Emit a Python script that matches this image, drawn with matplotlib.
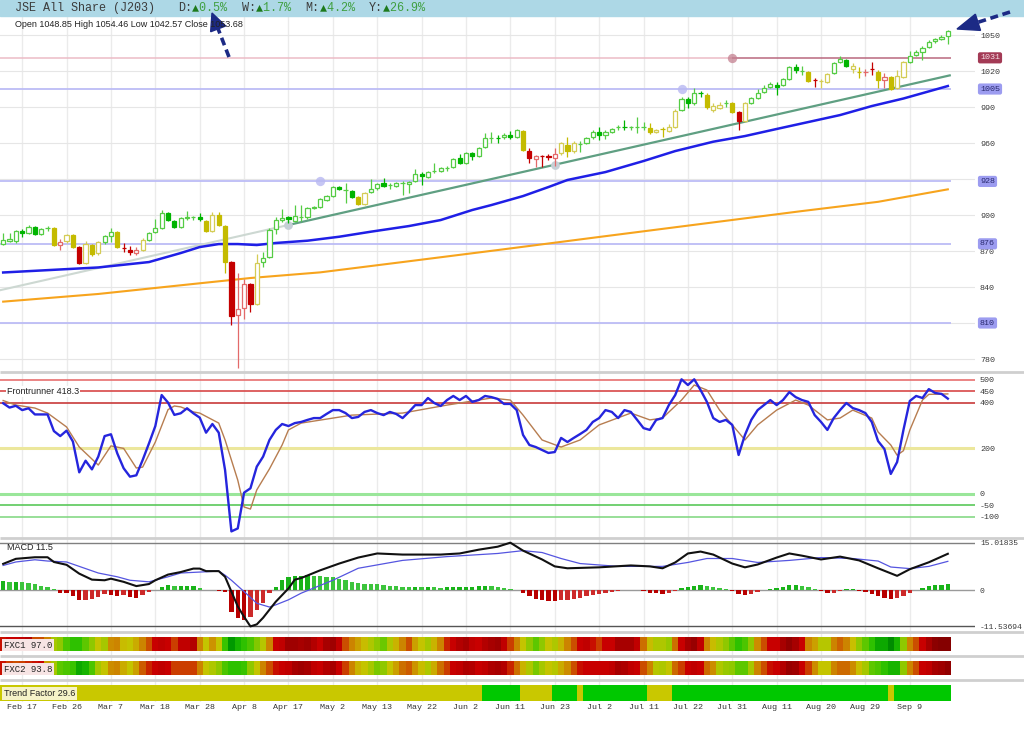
import numpy as np
import matplotlib
matplotlib.use("Agg")
import matplotlib.pyplot as plt
from matplotlib.colors import LinearSegmentedColormap, ListedColormap
from matplotlib.patches import Polygon, Rectangle

plt.rcParams['axes.unicode_minus'] = False
MONO = ['Liberation Mono', 'DejaVu Sans Mono']
SANS = ['Liberation Sans', 'DejaVu Sans']

# ---------------- data ----------------
title = "JSE All Share (J203)"
period_labels = ["D", "W", "M", "Y"]
period_changes = [0.5, 1.7, 4.2, 26.9]

date_labels = ["Feb 17", "Feb 26", "Mar 7", "Mar 18", "Mar 28", "Apr 8", "Apr 17",
               "May 2", "May 13", "May 22", "Jun 2", "Jun 11", "Jun 23", "Jul 2",
               "Jul 11", "Jul 22", "Jul 31", "Aug 11", "Aug 20", "Aug 29", "Sep 9"]
date_idx = [3, 10, 17, 24, 31, 38, 45, 52, 59, 66, 73, 80, 87, 94, 101, 108, 115,
            122, 129, 136, 143]

opens = [
    875.8, 878.3, 878.3, 886.7, 885.0, 890.0, 884.2, 889.0, 889.2, 875.0,
    878.3, 883.3, 873.3, 860.0, 875.0, 868.3, 877.5, 882.5, 885.8, 872.5,
    870.8, 868.3, 870.8, 879.2, 885.8, 889.2, 901.7, 895.0, 890.0, 897.5,
    898.0, 898.3, 895.0, 886.7, 900.0, 890.8, 860.8, 816.7, 822.5, 842.5,
    825.8, 860.8, 865.0, 888.3, 895.8, 898.3, 895.0, 898.3, 898.3, 905.8,
    906.7, 912.5, 915.8, 923.3, 920.8, 920.0, 915.0, 909.2, 919.2, 922.5,
    926.7, 925.0, 924.2, 926.7, 925.8, 928.3, 934.2, 931.7, 936.7, 936.7,
    939.2, 940.0, 947.5, 943.3, 951.7, 949.2, 956.7, 964.2, 964.2, 965.0,
    966.7, 965.0, 970.0, 953.3, 946.7, 949.2, 949.2, 947.5, 951.7, 958.3,
    953.3, 959.2, 960.0, 965.0, 969.2, 966.7, 969.2, 973.3, 973.3, 973.3,
    973.3, 973.3, 972.5, 969.2, 971.7, 970.0, 973.3, 987.5, 996.7, 993.3,
    1001.7, 1000.0, 987.5, 989.2, 993.3, 993.3, 985.8, 978.3, 993.3, 997.5,
    1002.5, 1006.7, 1008.3, 1008.3, 1013.3, 1023.3, 1020.0, 1019.2, 1012.5, 1011.7,
    1010.8, 1018.3, 1027.5, 1029.2, 1021.7, 1019.2, 1019.2, 1021.7, 1019.2, 1012.5,
    1015.0, 1005.8, 1015.0, 1027.5, 1033.3, 1035.8, 1040.0, 1045.0, 1046.7, 1048.85]
closes = [
    879.2, 880.0, 886.7, 885.0, 890.0, 884.2, 888.3, 889.2, 875.0, 877.5,
    883.3, 873.3, 860.0, 875.8, 867.5, 877.5, 882.5, 885.8, 873.3, 872.2,
    869.2, 870.8, 879.2, 885.0, 889.2, 901.7, 895.8, 890.0, 897.5, 898.3,
    898.3, 896.7, 886.7, 900.0, 891.7, 860.8, 815.8, 821.7, 842.5, 825.8,
    860.0, 864.2, 887.5, 895.8, 897.5, 896.7, 899.2, 898.5, 905.8, 906.7,
    913.3, 915.8, 923.3, 921.7, 921.0, 915.0, 909.2, 918.3, 921.7, 925.8,
    924.2, 925.2, 926.7, 926.8, 927.5, 934.2, 932.5, 935.8, 936.8, 939.2,
    939.4, 946.7, 943.3, 951.7, 949.2, 955.8, 964.2, 964.4, 964.0, 966.7,
    965.0, 970.8, 954.2, 947.5, 949.2, 949.0, 948.3, 950.8, 960.0, 953.3,
    960.0, 959.4, 964.2, 969.2, 966.7, 969.2, 971.7, 973.5, 973.2, 973.4,
    973.4, 973.5, 969.2, 970.8, 971.6, 973.3, 986.7, 996.7, 993.3, 1001.7,
    1001.5, 990.0, 990.8, 991.7, 993.5, 985.8, 978.3, 993.3, 997.5, 1001.7,
    1005.8, 1009.2, 1006.7, 1013.3, 1023.3, 1020.8, 1020.2, 1011.7, 1012.3, 1011.9,
    1017.5, 1026.7, 1030.0, 1024.2, 1024.2, 1019.0, 1019.4, 1021.5, 1012.5, 1015.0,
    1005.0, 1015.8, 1027.5, 1032.5, 1035.8, 1039.2, 1044.2, 1046.7, 1048.3, 1053.68]
highs = [
    885.0, 885.0, 887.5, 888.0, 891.7, 891.0, 889.0, 890.5, 890.0, 880.0,
    884.5, 884.5, 874.0, 878.6, 876.0, 878.0, 883.5, 889.4, 886.5, 876.7,
    874.5, 873.0, 880.5, 886.0, 896.7, 904.2, 902.5, 896.0, 898.5, 903.3,
    899.5, 901.9, 896.0, 902.8, 902.5, 891.5, 862.0, 851.7, 846.7, 843.5,
    867.5, 869.2, 889.0, 898.0, 905.0, 899.0, 908.3, 908.0, 906.5, 907.5,
    914.5, 917.0, 924.5, 924.5, 927.0, 921.0, 916.0, 919.5, 930.0, 927.0,
    930.8, 927.0, 927.5, 928.0, 928.5, 938.3, 935.5, 937.0, 943.3, 940.0,
    941.0, 947.5, 950.8, 952.5, 952.5, 956.7, 968.3, 969.0, 967.0, 968.0,
    970.3, 971.7, 971.0, 955.8, 950.0, 950.0, 951.0, 955.8, 961.0, 965.0,
    961.5, 962.0, 965.0, 970.8, 973.6, 970.5, 972.5, 975.0, 979.2, 974.5,
    981.4, 977.8, 976.7, 972.0, 973.5, 975.5, 988.0, 998.0, 998.0, 1005.6,
    1003.5, 1001.5, 993.3, 994.0, 995.5, 994.2, 986.5, 994.2, 998.3, 1004.7,
    1008.3, 1010.8, 1011.0, 1014.5, 1024.2, 1025.8, 1024.0, 1020.0, 1014.5, 1013.3,
    1018.5, 1027.5, 1032.8, 1030.0, 1026.4, 1023.3, 1021.7, 1027.8, 1020.8, 1018.3,
    1016.0, 1020.8, 1028.3, 1036.9, 1037.5, 1040.8, 1045.8, 1047.5, 1050.0, 1054.46]
lows = [
    875.0, 877.5, 877.0, 882.0, 884.0, 883.0, 883.0, 887.0, 874.0, 870.8,
    877.0, 872.5, 859.0, 859.0, 866.0, 867.0, 876.0, 877.7, 872.5, 869.2,
    866.5, 866.5, 870.0, 878.0, 885.0, 888.0, 895.0, 889.0, 889.0, 896.0,
    896.0, 895.0, 886.0, 886.0, 891.0, 851.7, 808.3, 772.5, 813.3, 819.2,
    825.0, 856.7, 864.0, 884.0, 894.0, 893.0, 894.0, 895.0, 897.0, 905.0,
    906.0, 911.5, 915.0, 920.5, 910.0, 914.0, 908.5, 908.5, 918.0, 921.0,
    923.0, 922.0, 923.5, 916.7, 918.0, 927.5, 925.0, 930.5, 935.0, 935.5,
    937.0, 939.0, 942.5, 942.5, 945.5, 948.3, 955.8, 960.0, 960.0, 963.5,
    963.0, 964.0, 953.3, 943.3, 940.0, 940.0, 946.0, 941.0, 950.0, 948.0,
    952.0, 952.8, 959.0, 963.5, 962.5, 963.0, 968.3, 971.0, 971.0, 971.0,
    968.3, 970.8, 967.5, 968.0, 965.2, 969.0, 972.5, 986.7, 989.2, 992.0,
    998.5, 988.3, 986.0, 988.0, 990.3, 985.0, 970.8, 977.5, 992.5, 996.7,
    1001.7, 1005.8, 1000.0, 1007.5, 1012.5, 1018.3, 1016.7, 1010.8, 1006.9, 1006.0,
    1010.0, 1017.5, 1026.7, 1023.3, 1018.3, 1014.2, 1015.8, 1016.7, 1005.8, 1005.8,
    1004.2, 1005.0, 1014.2, 1026.7, 1032.5, 1029.2, 1039.2, 1043.5, 1045.8, 1042.57]
# candle trend state: g = green, y = yellow, r = red
candle_state = ("gggggggg" + "yryyryyyggyrrryg" + "gggggggg" + "yyyy" + "rrrr" + "y"
                + "ggggggggggggggg" + "yy" + "gggggggggggggggggggggggg" + "y" + "rrrrr"
                + "yyy" + "ggggggggggg" + "yyyyy" + "gggg" + "yyy" + "g" + "yry"
                + "ggggggggg" + "yryy" + "ggg" + "yyrryryyy" + "ggggggg")

ma_fast_k = [0, 15, 23, 28, 31, 34, 37, 40, 43, 48, 53, 58, 64, 69, 74, 77, 82, 86, 89,
             95, 101, 106, 112, 117, 122, 127, 132, 137, 142, 149]
ma_fast_v = [852.1, 856.3, 860.8, 868.3, 873.3, 875.8, 875.8, 875.0, 876.7, 878.6, 881.9,
             886.1, 890.8, 895.8, 904.2, 908.3, 915.8, 923.3, 929.2, 935.8, 945.0, 953.3,
             961.1, 965.8, 971.7, 977.5, 983.3, 990.8, 997.1, 1007.5]
ma_slow_k = [0, 15, 31, 39, 50, 63, 78, 94, 110, 126, 138, 149]
ma_slow_v = [827.8, 834.2, 843.1, 847.5, 852.2, 860.8, 870.8, 881.7, 892.5, 903.3, 911.0, 921.4]

trend_anchor_k = [45, 87]
trend_anchor_v = [891.7, 941.9]

levels = [1031, 1005, 928, 876, 810]
level_anchor = [115, 107, 50, None, None]

frontrunner = [
    398, 379, 387, 368, 376, 349, 349, 349, 276, 254,
    278, 230, 95, 146, 108, 164, 254, 262, 178, 113,
    76, 82, 149, 222, 298, 434, 401, 347, 354, 376,
    354, 335, 269, 307, 269, 105, -164, -151, 6, 25,
    120, 164, 237, 281, 307, 298, 311, 316, 325, 333,
    333, 351, 368, 368, 355, 333, 338, 360, 368, 355,
    346, 360, 351, 333, 360, 390, 390, 421, 399, 386,
    412, 430, 412, 430, 404, 412, 430, 425, 417, 395,
    395, 368, 259, 215, 206, 193, 180, 184, 246, 228,
    246, 263, 281, 316, 333, 368, 360, 333, 368, 360,
    325, 289, 281, 325, 333, 390, 434, 503, 478, 503,
    456, 404, 333, 316, 325, 303, 171, 259, 325, 368,
    390, 412, 390, 412, 447, 425, 412, 404, 346, 316,
    281, 333, 368, 399, 377, 368, 355, 316, 232, 197,
    88, 140, 281, 408, 430, 421, 460, 443, 439, 418.3]
fr_sig_k = [0, 2, 5, 7, 10, 12, 15, 17, 19, 21, 22, 24, 26, 27, 28, 30, 31, 34, 35, 37,
            38, 39, 40, 42, 44, 45, 47, 55, 63, 70, 77, 80, 82, 85, 88, 91, 94, 99, 102,
            104, 107, 109, 111, 113, 115, 117, 119, 122, 125, 127, 130, 132, 134, 137, 138,
            140, 141, 142, 143, 145, 146, 149]
fr_sig_v = [410, 390, 377, 355, 294, 206, 127, 211, 200, 114, 118, 228, 370, 386, 382,
            360, 355, 311, 237, 61, -57, -66, 18, 110, 215, 281, 311, 346, 355, 390, 421,
            412, 346, 237, 206, 237, 303, 355, 325, 333, 412, 478, 456, 368, 303, 237, 303,
            368, 412, 390, 325, 333, 368, 333, 272, 215, 170, 190, 280, 412, 437, 439]
fr_levels = [500, 450, 400, 200, 0, -50, -100]

macd_k = [0, 2, 5, 7, 8, 10, 12, 14, 16, 17, 19, 21, 23, 24, 26, 28, 30, 31, 32, 34, 35,
          36, 37, 38, 39, 40, 41, 43, 45, 46, 47, 50, 53, 56, 59, 63, 69, 72, 75, 78, 80,
          82, 85, 87, 89, 94, 99, 102, 104, 106, 108, 110, 112, 115, 117, 119, 122, 124,
          126, 129, 132, 135, 138, 141, 143, 146, 149]
macd_v = [8.3, 9.9, 10.4, 10.4, 8.9, 8.0, 5.2, 3.3, 3.1, 3.6, 2.6, 1.25, 1.9, 3.1, 4.9,
          5.7, 6.8, 6.8, 6.0, 6.0, 4.2, -0.5, -5.2, -8.5, -11.54, -10.9, -8.8, -3.7, 0.5,
          3.3, 3.8, 6.25, 8.4, 10.3, 11.6, 11.25, 11.25, 11.6, 12.8, 13.75, 15.02, 12.5,
          9.7, 7.5, 6.9, 7.2, 7.8, 7.5, 6.9, 8.75, 11.6, 12.2, 11.25, 8.4, 7.2, 8.1, 10.3,
          11.6, 10.9, 9.7, 10.6, 9.4, 6.9, 4.5, 6.6, 8.8, 11.5]
macd_sig_k = [0, 2, 5, 7, 10, 13, 15, 18, 20, 23, 26, 28, 31, 34, 35, 36, 38, 40, 42, 43,
              45, 47, 52, 56, 63, 70, 78, 82, 85, 88, 91, 97, 104, 108, 111, 115, 119, 124,
              129, 134, 138, 140, 143, 146, 149]
macd_sig_v = [7.8, 8.9, 9.6, 9.2, 8.9, 6.8, 5.4, 4.2, 3.1, 2.6, 4.2, 5.4, 5.7, 6.0, 4.7,
              3.1, -0.5, -4.2, -5.4, -4.7, -3.1, -1.0, 3.1, 6.9, 9.4, 10.6, 11.6, 12.5, 11.9,
              10.0, 8.4, 7.5, 7.5, 8.75, 10.0, 10.0, 8.75, 9.4, 10.3, 10.0, 9.2, 7.3, 6.8,
              7.5, 9.1]
macd_hist = [
    2.9, 2.6, 2.6, 2.4, 2.1, 1.8, 1.25, 1.0, 0.2, -0.8,
    -1.0, -1.9, -3.3, -3.1, -2.9, -2.1, -1.3, -1.5, -1.8, -1.5,
    -2.1, -2.4, -1.5, -0.7, 0.1, 1.0, 1.6, 1.25, 1.25, 1.25,
    1.25, 0.8, 0.1, 0.1, -0.4, -0.5, -7.1, -8.9, -9.5, -8.5,
    -6.2, -4.0, -1.0, 1.0, 3.1, 4.2, 4.4, 4.6, 4.7, 4.6,
    4.4, 4.2, 4.0, 3.6, 3.1, 2.7, 2.2, 2.0, 1.9, 1.8,
    1.6, 1.4, 1.3, 1.1, 1.0, 1.1, 1.0, 1.0, 0.9, 0.8,
    0.9, 1.0, 1.0, 1.1, 1.1, 1.2, 1.3, 1.2, 1.0, 0.8,
    0.4, 0.1, -1.0, -2.0, -2.8, -3.3, -3.6, -3.6, -3.3, -3.1,
    -2.8, -2.4, -2.0, -1.6, -1.2, -0.8, -0.5, -0.3, -0.1, 0.1,
    0.0, -0.3, -0.8, -1.0, -1.2, -1.0, -0.4, 0.5, 1.0, 1.4,
    1.6, 1.4, 1.0, 0.6, 0.3, -0.2, -1.3, -1.6, -1.2, -0.6,
    -0.1, 0.4, 0.8, 1.1, 1.5, 1.6, 1.4, 1.0, 0.4, -0.4,
    -1.0, -0.8, -0.4, 0.2, 0.2, -0.2, -0.6, -1.2, -2.0, -2.4,
    -3.0, -2.4, -1.9, -0.8, 0.1, 0.5, 1.25, 1.5, 1.7, 1.9]
macd_hi = 15.01835
macd_lo = -11.53694

fxc1 = [78, 80, 80, 82, 85, 70, 70, 62, 38, 35, 25, 20, 20, 28, 35, 45, 38, 60, 62, 48,
        45, 52, 62, 70, 80, 82, 80, 72, 82, 82, 85, 62, 45, 58, 45, 22, 8, 15, 20, 25,
        33, 42, 62, 80, 82, 90, 90,
        88, 90, 85, 80, 88, 90, 82, 70, 62, 55, 48, 40, 35, 30, 40, 50, 62, 70, 55, 45,
        38, 50, 62, 75, 80, 85, 88, 82, 80, 85, 88, 90, 82, 72, 62, 45, 35, 28, 35, 45,
        40, 50, 62, 70, 80, 82, 78,
        72, 80, 80, 88, 88, 88, 82, 65, 48, 40, 40, 36, 65, 80, 88, 92, 82, 62, 48, 40,
        35, 28, 20, 25, 35, 60, 70, 80, 80, 88, 93, 88, 80, 62, 55, 42, 42, 62, 67, 62,
        47, 35, 28, 20, 12, 12, 5, 15, 35, 62, 70, 80, 88, 95, 97, 97.0]
fxc2 = [78, 72, 70, 72, 75, 78, 80, 55, 38, 28, 25, 22, 12, 15, 25, 38, 45, 60, 62, 52,
        45, 55, 68, 75, 80, 82, 80, 72, 72, 72, 72, 62, 45, 40, 35, 25, 20, 20, 22, 35,
        45, 62, 70, 78, 80, 82, 88,
        90, 88, 82, 80, 85, 88, 80, 72, 62, 50, 45, 38, 32, 35, 45, 55, 65, 68, 58, 48,
        40, 52, 65, 72, 80, 82, 86, 85, 80, 82, 86, 88, 85, 75, 65, 50, 40, 32, 38, 45,
        42, 52, 60, 70, 78, 80, 80,
        80, 80, 82, 88, 86, 82, 80, 70, 62, 42, 40, 45, 66, 72, 80, 82, 80, 66, 60, 40,
        36, 35, 28, 28, 38, 62, 70, 78, 80, 85, 92, 90, 80, 72, 60, 45, 45, 62, 66, 66,
        60, 47, 38, 28, 25, 20, 15, 15, 35, 62, 70, 80, 82, 88, 90, 93.8]
trend_state = ("Y" * 76 + "G" * 6 + "Y" * 5 + "G" * 4 + "Y" + "G" * 10 + "Y" * 4
               + "G" * 34 + "Y" + "G" * 9)
trend_factor = 29.6

# ---------------- figure ----------------
W, H = 1024, 735
fig = plt.figure(figsize=(W / 100, H / 100), dpi=100)
fig.patch.set_facecolor('white')


def rect(x0, y0, x1, y1):
    return [x0 / W, 1 - y1 / H, (x1 - x0) / W, (y1 - y0) / H]


opens = np.array(opens); closes = np.array(closes)
highs = np.array(highs); lows = np.array(lows)
N = len(closes)
idx = np.arange(N)
STEP = 6.34
XLIM = (-0.5, -0.5 + 975 / STEP)
LABEL_X = 1 + 5 / 975


def style_panel(a, ticks, labels, size=6):
    a.set_xlim(*XLIM)
    a.patch.set_alpha(0)
    for s in a.spines.values():
        s.set_visible(False)
    a.set_xticks([])
    a.yaxis.tick_right()
    a.set_yticks(ticks)
    a.set_yticklabels(labels, family=MONO, fontsize=size, color='#3a3a3a')
    a.tick_params(axis='y', length=0, pad=3.6)


# background vertical grid
bg = fig.add_axes(rect(0, 15, 975, 702), zorder=0)
bg.set_xlim(*XLIM); bg.set_ylim(0, 1); bg.axis('off')
bg.vlines(date_idx, 0, 1, color='#ebebeb', lw=1)

# ---- price panel ----
ax = fig.add_axes(rect(0, 15, 975, 371), zorder=2)
ax.set_ylim(770.0, 1066.7)
pt = list(range(780, 1051, 30))
style_panel(ax, pt, [str(t) for t in pt])
ax.grid(axis='y', color='#e6e6e6', lw=0.8)

x_end = N - 0.5
for i, (lv, anc) in enumerate(zip(levels, level_anchor)):
    if i == 0:
        ax.hlines(lv, XLIM[0], anc, color='#ecbcc6', lw=1.1, zorder=2)
        ax.hlines(lv, anc, x_end, color='#b9687e', lw=1.1, zorder=2)
        ax.scatter([anc], [lv], s=45, color='#c48090', alpha=0.75, zorder=2.2, lw=0)
        fc, tc = '#a33a55', '#f6e0e6'
    else:
        ax.hlines(lv, XLIM[0], x_end, color='#bcbcf6', lw=1.3, zorder=2)
        if anc is not None:
            ax.scatter([anc], [lv], s=45, color='#b8b8f2', alpha=0.8, zorder=2.2, lw=0)
        fc, tc = '#9c9cf0', '#2a2a70'
    ax.text(LABEL_X, lv, str(lv), transform=ax.get_yaxis_transform(), ha='left',
            va='center', fontsize=6, family=MONO, color=tc, zorder=8, clip_on=False,
            bbox=dict(boxstyle='round,pad=0.25', fc=fc, ec='none'))

# moving averages
ax.plot(ma_slow_k, ma_slow_v, color='#f7a41d', lw=1.5, zorder=2.5)
ax.plot(ma_fast_k, ma_fast_v, color='#1f1fe6', lw=1.8, zorder=2.6)

# trendline
tk0, tk1 = trend_anchor_k
tv0, tv1 = trend_anchor_v
slope = (tv1 - tv0) / (tk1 - tk0)
ax.plot([XLIM[0], tk0], [tv0 + slope * (XLIM[0] - tk0), tv0], color='#cdd8d2', lw=1.5, zorder=2.4)
ax.plot([tk0, N - 0.7], [tv0, tv0 + slope * (N - 0.7 - tk0)], color='#5f9f82', lw=1.6, zorder=2.4)
ax.scatter(trend_anchor_k, trend_anchor_v, s=40, color='#c5cfd6', zorder=2.5, lw=0)

# candles
light = {'g': '#55cc44', 'y': '#d4cc55', 'r': '#e36a6a'}
dark = {'g': '#00b400', 'y': '#c4bb00', 'r': '#c40000'}
up = closes >= opens
face = ['white' if u else dark[s] for u, s in zip(up, candle_state)]
edge = [light[s] if u else dark[s] for u, s in zip(up, candle_state)]
bottom = np.minimum(opens, closes)
height = np.maximum(np.abs(closes - opens), 0.35)
ax.vlines(idx, lows, highs, colors=edge, lw=0.9, zorder=3)
ax.bar(idx, height, bottom=bottom, width=0.66, color=face, edgecolor=edge,
       linewidth=0.9, zorder=4)

# ---- frontrunner panel ----
fr = fig.add_axes(rect(0, 373, 975, 537), zorder=2)
fr.set_ylim(-188.6, 530.7)
style_panel(fr, fr_levels, [str(t) for t in fr_levels])
fr_cols = ['#e87070', '#d84848', '#c83a3a', '#ece79c', '#9ae69a', '#4cc44c', '#7cd67c']
fr_w = [1.2, 1.2, 1.2, 2.2, 2.2, 1.1, 1.1]
for t, c, w in zip(fr_levels, fr_cols, fr_w):
    fr.axhline(t, color=c, lw=w, zorder=1.8)
fr.plot(fr_sig_k, fr_sig_v, color='#b77d50', lw=1.0, zorder=3)
fr.plot(idx, frontrunner, color='#2525dd', lw=1.7, zorder=3.2)
fr.text(7 / 975, 450, f'Frontrunner {frontrunner[-1]}', transform=fr.get_yaxis_transform(),
        ha='left', va='center', fontsize=6.5, family=SANS, color='#222222', zorder=6,
        bbox=dict(boxstyle='square,pad=0.15', fc='white', ec='none'))

# ---- MACD panel ----
mc = fig.add_axes(rect(0, 539, 975, 631), zorder=2)
mc.set_ylim(-13.0, 16.19)
style_panel(mc, [macd_hi, 0, macd_lo], [f'{macd_hi}', '0', f'{macd_lo}'], size=5.8)
mc.axhline(macd_hi, color='#808080', lw=1, zorder=1.8)
mc.axhline(0, color='#9a9a9a', lw=1, zorder=1.8)
mc.axhline(macd_lo, color='#555555', lw=1, zorder=1.8)
hcols = []
for k, h in enumerate(macd_hist):
    prev = macd_hist[k - 1] if k > 0 else h
    if h >= 0:
        hcols.append('#19b319' if h >= prev else '#3cc43c')
    else:
        hcols.append('#b80000' if h <= prev else '#cc2a2a')
mc.bar(idx, macd_hist, width=0.68, color=hcols, zorder=2)
mc.plot(macd_sig_k, macd_sig_v, color='#5555e0', lw=0.9, zorder=3)
mc.plot(macd_k, macd_v, color='#111111', lw=1.5, zorder=3.2)
mc.text(7 / 975, 13.5, f'MACD {macd_v[-1]}', transform=mc.get_yaxis_transform(),
        ha='left', va='center', fontsize=6.5, family=SANS, color='#222222', zorder=6)

# ---- FXC heat rows ----
fxc_cmap = LinearSegmentedColormap.from_list('fxc', [
    (0.00, '#007a00'), (0.08, '#009a00'), (0.18, '#22c000'), (0.28, '#5ec800'),
    (0.38, '#a6c800'), (0.46, '#c8c400'), (0.55, '#cca000'), (0.62, '#cc8400'),
    (0.70, '#cc5000'), (0.80, '#c80000'), (0.90, '#a00000'), (1.00, '#7c0000')])
for (y0, y1), vals, name in [((637, 651), fxc1, 'FXC1'), ((661, 675), fxc2, 'FXC2')]:
    a = fig.add_axes(rect(0, y0, 975, y1), zorder=2)
    a.imshow(np.array(vals, dtype=float)[None, :], cmap=fxc_cmap, vmin=0, vmax=100,
             aspect='auto', extent=(-0.5, N - 0.5, 0, 1), interpolation='nearest')
    a.set_xlim(*XLIM); a.set_ylim(0, 1); a.axis('off')
    a.text(4 / 975, 0.42, f'{name} {vals[-1]:.1f}', transform=a.transAxes, family=MONO,
           fontsize=6.5, va='center', ha='left', color='#222222',
           bbox=dict(boxstyle='square,pad=0.2', fc='#f7e4e4', ec='none'))

# ---- trend factor row ----
tr = fig.add_axes(rect(0, 685, 975, 701), zorder=2)
tvals = np.array([0 if c == 'Y' else 1 for c in trend_state], dtype=float)
tr.imshow(tvals[None, :], cmap=ListedColormap(['#c9c800', '#00c800']), vmin=0, vmax=1,
          aspect='auto', extent=(-0.5, N - 0.5, 0, 1), interpolation='nearest')
tr.set_xlim(*XLIM); tr.set_ylim(0, 1)
for s in tr.spines.values():
    s.set_visible(False)
tr.set_yticks([])
tr.set_xticks(date_idx)
tr.set_xticklabels(date_labels, family=MONO, fontsize=6, color='#333333')
tr.tick_params(axis='x', length=0, pad=2.5)
tr.text(4 / 975, 0.45, f'Trend Factor {trend_factor}', transform=tr.transAxes, family=SANS,
        fontsize=6.5, va='center', ha='left', color='#222222',
        bbox=dict(boxstyle='square,pad=0.2', fc='#f6f3c8', ec='none'))

# ---- overlay: header, separators, arrows ----
ov = fig.add_axes([0, 0, 1, 1], zorder=10)
ov.set_xlim(0, W); ov.set_ylim(H, 0); ov.axis('off')
ov.add_patch(Rectangle((0, 0), W, 16, color='#add8e6', zorder=0))
ov.hlines([372, 538, 632, 656, 680], 0, W, color='#cfcfcf', lw=2)

cw = 8.5 * 0.6 * 100 / 72
x = 15
segments = [(title + '   ', '#3c3c3c')]
for lab, ch in zip(period_labels, period_changes):
    segments += [(f'{lab}:', '#3c3c3c'), ('▲', '#1d7a1d'), (f'{ch}%  ', '#3f9f3f')]
for txt, col in segments:
    ov.text(x, 8, txt, family=MONO, fontsize=8.5, color=col, va='center', ha='left')
    x += len(txt) * cw

ov.text(15, 24, f'Open {opens[-1]:.2f} High {highs[-1]:.2f} Low {lows[-1]:.2f} '
        f'Close {closes[-1]:.2f}', family=SANS, fontsize=6.5, color='#222222',
        va='center', ha='left')

navy = '#1c2a85'


def dashed_arrow(tail, tip, head_len, head_w):
    tail = np.array(tail, dtype=float); tip = np.array(tip, dtype=float)
    d = (tip - tail) / np.linalg.norm(tip - tail)
    n = np.array([-d[1], d[0]])
    base = tip - d * head_len
    ov.plot([tail[0], base[0]], [tail[1], base[1]], color=navy, lw=2.6,
            ls=(0, (2.2, 1.3)), dash_capstyle='butt')
    ov.add_patch(Polygon([tip, base + n * head_w / 2, base - n * head_w / 2],
                         closed=True, color=navy))


dashed_arrow((229, 57), (212, 13), 17, 16)
dashed_arrow((1010, 12), (957, 29), 22, 17)

fig.savefig('out.png', dpi=100)
